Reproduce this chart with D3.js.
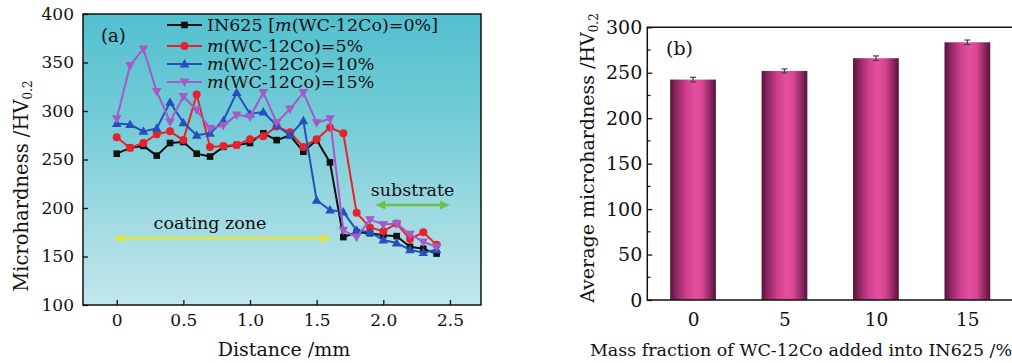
<!DOCTYPE html>
<html><head><meta charset="utf-8">
<script src="https://cdn.jsdelivr.net/npm/d3@7"></script>
<style>body{margin:0;background:#fff}svg{display:block}text{font-family:"DejaVu Serif",serif;fill:#111}</style>
</head><body><svg id="c" width="1012" height="363"></svg>
<script>
// ---- data (a) ----
const distance = [0,0.1,0.2,0.3,0.4,0.5,0.6,0.7,0.8,0.9,1.0,1.1,1.2,1.3,1.4,1.5,1.6,1.7,1.8,1.9,2.0,2.1,2.2,2.3,2.4];
const hv0  = [256,262,264,254,267,268,256,253,263,265,267,277,270,275,258,270,247,170,175,174,172,171,160,158,153];
const hv5  = [273,262,267,276,279,270,317,263,264,265,271,274,284,278,263,271,283,277,195,180,176,184,168,175,162];
const hv10 = [287,286,279,282,309,288,275,277,290,319,297,299,285,275,290,208,198,196,177,175,167,164,157,154,157];
const hv15 = [292,347,364,320,289,315,301,282,285,296,294,319,288,302,319,288,292,177,170,188,183,184,173,165,160];
const seriesNames = ["IN625 [|m|(WC-12Co)=0%]","|m|(WC-12Co)=5%","|m|(WC-12Co)=10%","|m|(WC-12Co)=15%"];
const xTicksA = [0,0.5,1.0,1.5,2.0,2.5];
const xTickLabelsA = ["0","0.5","1.0","1.5","2.0","2.5"];
const yTicksA = [100,150,200,250,300,350,400];
// ---- data (b) ----
const massFraction = [0,5,10,15];
const avgHV = [242.5,252,266,283.5];
const avgErr = [2.5,2.2,2.5,2.5];
const yTicksB = [0,50,100,150,200,250,300];

const svg = d3.select("#c");
const defs = svg.append("defs");

// ===== Chart (a) =====
const xA = d3.scaleLinear().domain([-0.253,2.733]).range([83,481]);
const yA = d3.scaleLinear().domain([100,400]).range([305,14]);
const bg = defs.append("linearGradient").attr("id","bgA").attr("x1",0).attr("y1",0).attr("x2",0).attr("y2",1);
[[0,"#52c0cf"],[0.35,"#72cbd7"],[0.7,"#a0dae2"],[1,"#c1e8ed"]].forEach(s=>bg.append("stop").attr("offset",s[0]).attr("stop-color",s[1]));
svg.append("rect").attr("x",83).attr("y",14).attr("width",398).attr("height",291).attr("fill","url(#bgA)");

const gA = svg.append("g");
// axes
const axL = gA.append("g").attr("transform","translate(83,0)").call(d3.axisLeft(yA).tickValues(yTicksA).tickSize(-5).tickPadding(9).tickFormat(d3.format("d")));
const axB = gA.append("g").attr("transform","translate(0,305)").call(d3.axisBottom(xA).tickValues(xTicksA).tickSize(-5).tickPadding(9).tickFormat((d,i)=>xTickLabelsA[i]));
[axL,axB].forEach(a=>{a.select(".domain").remove();a.selectAll("line").attr("stroke","#111").attr("stroke-width",1.3);a.selectAll("text").style("font-size","17px").style("font-family","DejaVu Serif").attr("fill","#111");});
gA.append("rect").attr("x",83).attr("y",14).attr("width",398).attr("height",291).attr("fill","none").attr("stroke","#111").attr("stroke-width",1.5);

// annotations
function arrowHead(g,x,y,dir,color){
  g.append("path").attr("d",`M${x},${y} l${-dir*10},-4.5 l0,9 z`).attr("fill",color);
}
function dblArrow(x1,x2,yv,color){
  const g = gA.append("g");
  const y=yA(yv);
  g.append("line").attr("x1",xA(x1)+6).attr("x2",xA(x2)-6).attr("y1",y).attr("y2",y).attr("stroke",color).attr("stroke-width",2.5);
  arrowHead(g,xA(x1),y,-1,color); arrowHead(g,xA(x2),y,1,color);
}
dblArrow(-0.025,1.61,168.8,"#e3e43a");
dblArrow(1.94,2.5,203,"#6cc34a");
gA.append("text").attr("x",xA(0.7)).attr("y",yA(178.5)).attr("text-anchor","middle").style("font-size","17.5px").text("coating zone");
gA.append("text").attr("x",xA(2.22)).attr("y",yA(212)).attr("text-anchor","middle").style("font-size","17.5px").text("substrate");
gA.append("text").attr("x",101).attr("y",42).style("font-size","18px").text("(a)");

const colors = ["#111111","#e8222c","#2350bd","#a65ac9"];
const sets = [hv0,hv5,hv10,hv15];
const line = d3.line().x((d,i)=>xA(distance[i])).y(d=>yA(d));
function marker(g,k,x,y){
  const c=colors[k];
  if(k===0) g.append("rect").attr("x",x-3.3).attr("y",y-3.3).attr("width",6.6).attr("height",6.6).attr("fill",c);
  else if(k===1) g.append("circle").attr("cx",x).attr("cy",y).attr("r",4).attr("fill",c);
  else if(k===2) g.append("path").attr("d",`M${x},${y-5} L${x+4.8},${y+3.5} L${x-4.8},${y+3.5} Z`).attr("fill",c);
  else g.append("path").attr("d",`M${x},${y+5} L${x+4.8},${y-3.5} L${x-4.8},${y-3.5} Z`).attr("fill",c);
}
sets.forEach((s,k)=>{
  const g=gA.append("g");
  g.append("path").datum(s).attr("d",line).attr("fill","none").attr("stroke",colors[k]).attr("stroke-width",2);
  s.forEach((v,i)=>marker(g,k,xA(distance[i]),yA(v)));
});
// legend
const legY=[25,46,64,82];
seriesNames.forEach((n,k)=>{
  const g=gA.append("g");
  g.append("line").attr("x1",167).attr("x2",202).attr("y1",legY[k]).attr("y2",legY[k]).attr("stroke",colors[k]).attr("stroke-width",2);
  marker(g,k,184.5,legY[k]);
  const t=g.append("text").attr("x",207).attr("y",legY[k]+5.5).style("font-size","17.5px");
  n.split("|").forEach((p,j)=>{ if(p) t.append("tspan").style("font-style",j%2?"italic":"normal").text(p); });
});
// titles
const tA = svg.append("text").attr("transform","translate(28,186) rotate(-90)").attr("text-anchor","middle").style("font-size","19.5px");
tA.append("tspan").text("Microhardness /HV");
tA.append("tspan").attr("dy",4).style("font-size","12px").text("0.2");
svg.append("text").attr("x",284).attr("y",356).attr("text-anchor","middle").style("font-size","19px").text("Distance /mm");

// ===== Chart (b) =====
const xB = d3.scaleLinear().domain([-2.5,17.55]).range([647.3,1014]);
const yB = d3.scaleLinear().domain([0,300]).range([300,27.3]);
const bg2 = defs.append("linearGradient").attr("id","barG").attr("x1",0).attr("y1",0).attr("x2",1).attr("y2",0);
[[0,"#561235"],[0.12,"#8a2560"],[0.35,"#cf3f8d"],[0.55,"#e64fa1"],[0.7,"#d8468f"],[0.88,"#8c2662"],[1,"#561235"]].forEach(s=>bg2.append("stop").attr("offset",s[0]).attr("stop-color",s[1]));
const gB = svg.append("g");
const bw = xB(1.25)-xB(-1.25);
gB.selectAll("rect.bar").data(massFraction).enter().append("rect").attr("class","bar")
  .attr("x",d=>xB(d)-bw/2).attr("width",bw).attr("y",(d,i)=>yB(avgHV[i])).attr("height",(d,i)=>yB(0)-yB(avgHV[i])).attr("fill","url(#barG)");
// error bars
massFraction.forEach((d,i)=>{
  const x=xB(d), y1=yB(avgHV[i]-avgErr[i]), y2=yB(avgHV[i]+avgErr[i]);
  gB.append("line").attr("x1",x).attr("x2",x).attr("y1",y1).attr("y2",y2).attr("stroke","#444").attr("stroke-width",1.2);
  [y1,y2].forEach(y=>gB.append("line").attr("x1",x-3).attr("x2",x+3).attr("y1",y).attr("y2",y).attr("stroke","#444").attr("stroke-width",1.2));
});
const axLB = gB.append("g").attr("transform","translate(647.3,0)").call(d3.axisLeft(yB).tickValues(yTicksB).tickSize(-5).tickPadding(5).tickFormat(d3.format("d")));
axLB.select(".domain").remove();
axLB.selectAll("line").attr("stroke","#111").attr("stroke-width",1.3);
axLB.selectAll("text").style("font-size","19px").style("font-family","DejaVu Serif").attr("fill","#111");
const minorB = d3.range(25,300,50);
gB.selectAll("line.minor").data(minorB).enter().append("line").attr("class","minor")
  .attr("x1",647.3).attr("x2",650.5).attr("y1",d=>yB(d)).attr("y2",d=>yB(d)).attr("stroke","#111").attr("stroke-width",1.2);
const axBB = gB.append("g").attr("transform","translate(0,300)").call(d3.axisBottom(xB).tickValues(massFraction).tickSize(0).tickPadding(13).tickFormat(d3.format("d")));
axBB.select(".domain").remove();
axBB.selectAll("text").style("font-size","18.5px").style("font-family","DejaVu Serif").attr("fill","#111");
gB.append("path").attr("d",`M1014,27.3 H647.3 V300 H1014`).attr("fill","none").attr("stroke","#111").attr("stroke-width",1.5);
gB.append("text").attr("x",666).attr("y",55).style("font-size","19px").text("(b)");
const tB = svg.append("text").attr("transform","translate(594,158) rotate(-90)").attr("text-anchor","middle").style("font-size","19px");
tB.append("tspan").text("Average microhardness /HV");
tB.append("tspan").attr("dy",4).style("font-size","12px").text("0.2");
svg.append("text").attr("x",801).attr("y",356).attr("text-anchor","middle").style("font-size","17.5px").text("Mass fraction of WC-12Co added into IN625 /%");
</script></body></html>
